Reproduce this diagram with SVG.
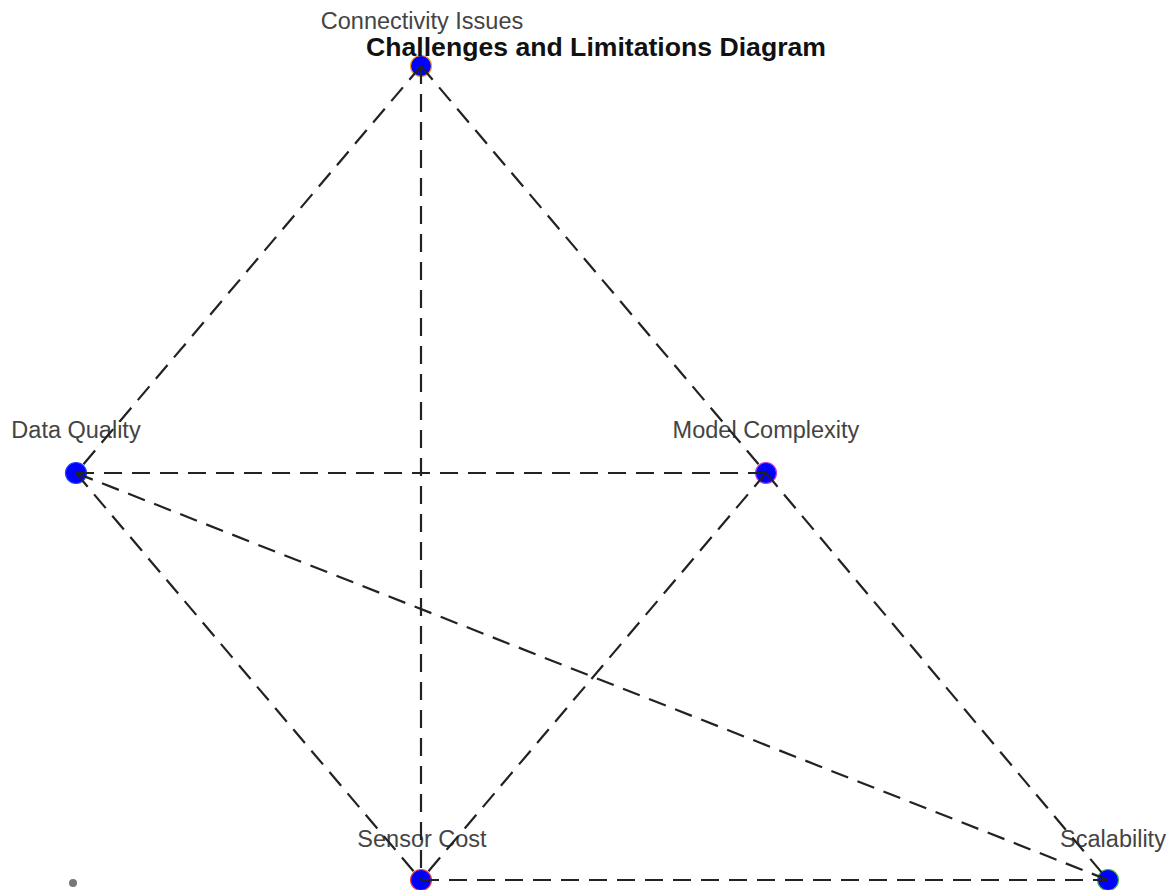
<svg xmlns="http://www.w3.org/2000/svg" width="1168" height="890" viewBox="0 0 1168 890">
<style>
.bg{fill:#ffffff}
.node{fill:#0000ff;stroke-width:1.2}
.lbl{font-family:"Liberation Sans",Arial,sans-serif;font-size:23.5px;fill:#444444;text-anchor:middle}
.title{font-family:"Liberation Sans",Arial,sans-serif;font-size:25px;font-weight:bold;fill:#111111;text-anchor:middle}
.edge{stroke:#222222;stroke-width:2.2;stroke-dasharray:18,10;fill:none}
</style>
<rect class="bg" x="0" y="0" width="1168" height="890"/>
<g id="nodes">
<g id="node-connectivity"><circle class="node" cx="421" cy="66" r="10.5" stroke="#f5a020"/><text class="lbl" x="422" y="29">Connectivity Issues</text></g>
<g id="node-dataquality"><circle class="node" cx="76" cy="473" r="10.5" stroke="#2040ff"/><text class="lbl" x="76" y="438">Data Quality</text></g>
<g id="node-model"><circle class="node" cx="766" cy="473" r="10.5" stroke="#c040e0"/><text class="lbl" x="766" y="438">Model Complexity</text></g>
<g id="node-sensor"><circle class="node" cx="421" cy="880" r="10.5" stroke="#f04040"/><text class="lbl" x="422" y="847">Sensor Cost</text></g>
<g id="node-scalability"><circle class="node" cx="1108" cy="880" r="10.5" stroke="#40b040"/><text class="lbl" x="1113" y="847">Scalability</text></g>
<g id="node-dot"><circle cx="73" cy="883" r="4" fill="#777777"/></g>
</g>
<g id="title"><text class="title" x="596" y="56" textLength="460" lengthAdjust="spacingAndGlyphs">Challenges and Limitations Diagram</text></g>
<g id="connectors">
<line class="edge" x1="421" y1="66" x2="76" y2="473"/>
<line class="edge" x1="421" y1="66" x2="421" y2="880"/>
<line class="edge" x1="421" y1="66" x2="766" y2="473"/>
<line class="edge" x1="76" y1="473" x2="766" y2="473"/>
<line class="edge" x1="76" y1="473" x2="421" y2="880"/>
<line class="edge" x1="76" y1="473" x2="1108" y2="880"/>
<line class="edge" x1="766" y1="473" x2="421" y2="880"/>
<line class="edge" x1="766" y1="473" x2="1108" y2="880"/>
<line class="edge" x1="421" y1="880" x2="1108" y2="880"/>
</g>
</svg>
